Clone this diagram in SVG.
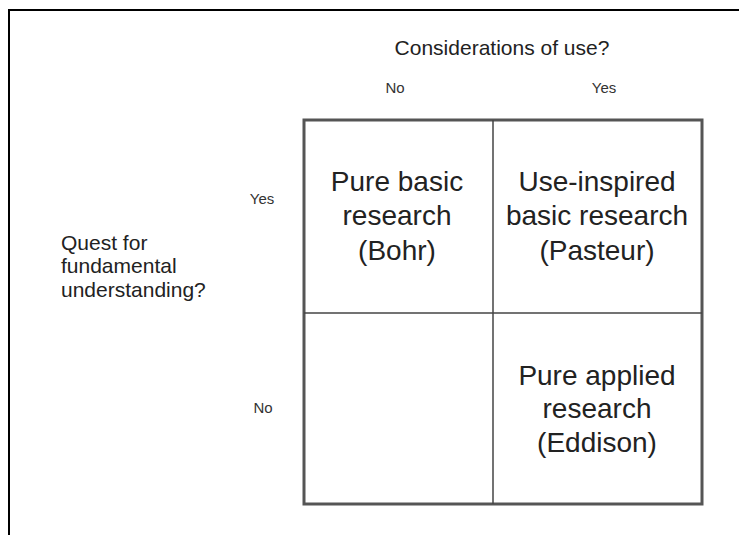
<svg xmlns="http://www.w3.org/2000/svg" width="739" height="535" viewBox="0 0 739 535">
<style>
text{font-family:"Liberation Sans",Arial,Helvetica,sans-serif;fill:#222;text-anchor:middle}
.q{font-size:28px}
.h{font-size:21px}
.s{font-size:15px;fill:#333}
.l{font-size:21px;text-anchor:start}
</style>
<rect width="739" height="535" fill="#fff"/>
<g id="frame" stroke="#000" stroke-width="2" fill="none">
<path d="M9 535 V10 H739"/>
</g>
<g id="axis-top">
<text class="h" x="502" y="55">Considerations of use?</text>
<text class="s" x="395" y="93">No</text>
<text class="s" x="604" y="93">Yes</text>
</g>
<g id="axis-left">
<text class="l" x="61" y="250">Quest for</text>
<text class="l" x="61" y="273">fundamental</text>
<text class="l" x="61" y="297">understanding?</text>
<text class="s" x="262" y="204">Yes</text>
<text class="s" x="263" y="413">No</text>
</g>
<g id="connectors" fill="none">
<rect x="304" y="120" width="398" height="384" stroke="#555" stroke-width="3"/>
<line x1="493" y1="120" x2="493" y2="504" stroke="#444" stroke-width="1.5"/>
<line x1="304" y1="313" x2="702" y2="313" stroke="#444" stroke-width="1.5"/>
</g>
<g id="cell-pure-basic">
<text class="q" x="397" y="191">Pure basic</text>
<text class="q" x="397" y="225">research</text>
<text class="q" x="397" y="260">(Bohr)</text>
</g>
<g id="cell-use-inspired">
<text class="q" x="597" y="191">Use-inspired</text>
<text class="q" x="597" y="225">basic research</text>
<text class="q" x="597" y="260">(Pasteur)</text>
</g>
<g id="cell-empty"></g>
<g id="cell-pure-applied">
<text class="q" x="597" y="385">Pure applied</text>
<text class="q" x="597" y="418">research</text>
<text class="q" x="597" y="452">(Eddison)</text>
</g>
</svg>
